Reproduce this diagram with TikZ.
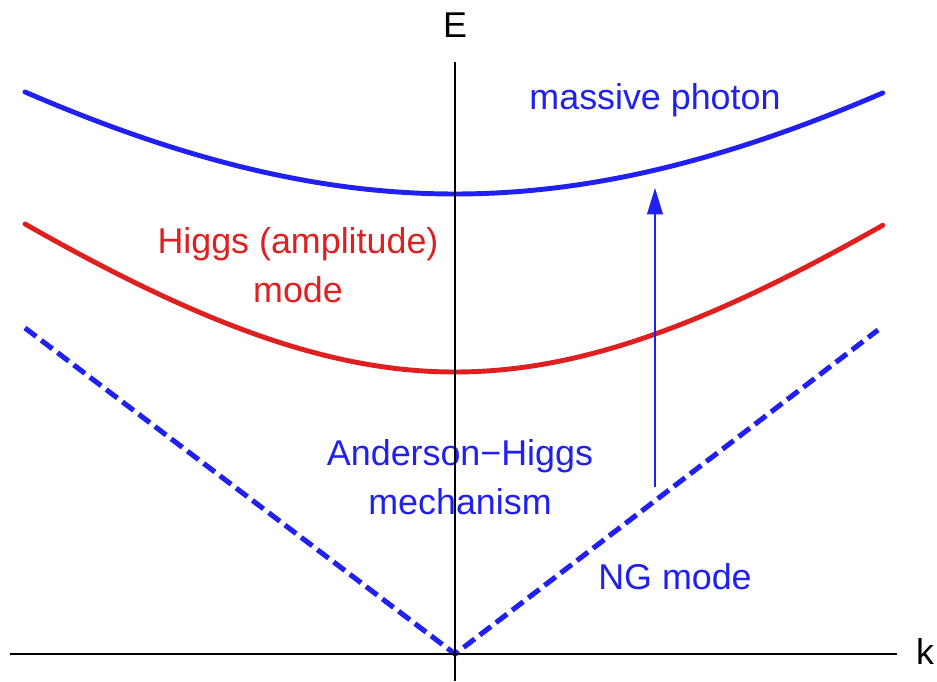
\documentclass[tikz,border=0pt]{standalone}
\usepackage{fontspec}
\setmainfont{Liberation Sans}
\usepackage{xcolor}
\definecolor{cBlue}{RGB}{32,32,240}
\definecolor{cRed}{RGB}{222,32,32}
\usepackage{tikz}
\usetikzlibrary{positioning, arrows.meta}

\begin{document}
\begin{tikzpicture}[x=2cm, y=2cm,
    axis/.style   = {line width=1.1pt, black},
    band/.style   = {line width=2.8pt, line cap=round},
    ngline/.style = {line width=2.9pt, color=cBlue, dash pattern=on 8pt off 3.6pt},
    lbl/.style    = {font=\fontsize{20.4}{28}\selectfont, align=center, inner sep=0pt},
    arr/.style    = {-{Triangle[length=15pt, width=9pt]}, line width=0.8pt, color=cBlue}
]
% --- Ramecek obrazku -----------------------------------------------------
\useasboundingbox (-4.55,-0.27) rectangle (4.82,6.54);

% --- Osy: body -----------------------------------------------------------
\coordinate (O)    at (0,0);
\coordinate (kmin) at (-4.45,0);
\coordinate (kmax) at (4.42,0);
\coordinate (Emin) at (0,-0.27);
\coordinate (Emax) at (0,5.92);
\node[lbl] (klab) at (4.70,0.02) {k};
\node[lbl] (Elab) at (0,6.29)    {E};

% --- Vetve disperze: E = sqrt(m^2 + (c k)^2) -----------------------------
\draw[band, cBlue] plot[domain=-4.3:4.28, samples=90, smooth]
  (\x, {sqrt(4.6*4.6 + (0.751*\x)*(0.751*\x))});
\draw[band, cRed]  plot[domain=-4.3:4.28, samples=90, smooth]
  (\x, {sqrt(2.82*2.82 + (0.755*\x)*(0.755*\x))});

% NG mod (carkovane asymptoty)
\coordinate (ngL) at (-4.30,3.26);
\coordinate (ngR) at (4.23,3.24);
\draw[ngline] (ngL) -- (O) -- (ngR);

% --- Popisky -------------------------------------------------------------
\node[lbl, text=cBlue] (photon) at (2.00,5.54) {massive photon};
\node[lbl, text=cRed]  (higgs)  at (-1.57,3.89) {Higgs (amplitude)\\mode};
\node[lbl, text=cBlue] (ahm)    at (0.05,1.77) {Anderson−Higgs\\mechanism};
\node[lbl, text=cBlue] (ng)     at (2.20,0.77) {NG mode};

% --- Sipka: NG mod -> hmotny foton ---------------------------------------
\coordinate (arrbot) at (2.00,1.67);
\coordinate (arrtop) at (2.00,4.66);
\draw[arr] (arrbot) -- (arrtop);

% osy az nakonec (pres text)
\draw[axis] (kmin) -- (kmax);
\draw[axis] (Emin) -- (Emax);
\end{tikzpicture}
\end{document}
